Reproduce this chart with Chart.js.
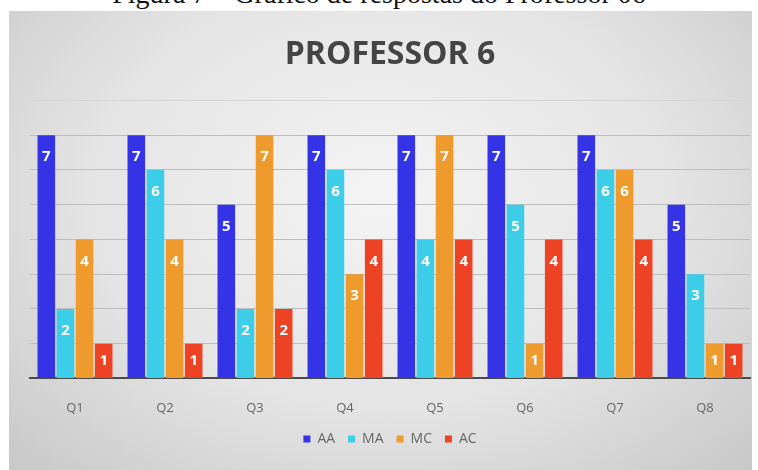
<!DOCTYPE html>
<html lang="pt">
<head>
<meta charset="UTF-8">
<title>Professor 6</title>
<script src="https://cdn.jsdelivr.net/npm/chart.js"></script>
<style>
  html, body { margin: 0; padding: 0; background: #fff; width: 758px; height: 470px; overflow: hidden; }
  #caption {
    position: absolute; left: 0; width: 758px; top: -20px;
    font-family: "Liberation Serif", serif; font-size: 28px; line-height: 28px;
    text-align: center; color: #111; white-space: nowrap;
  }
  #frame {
    position: absolute; left: 9px; top: 11px; width: 743px; height: 459px;
    background: radial-gradient(ellipse at 50% 40%, #f4f4f4 0%, #e4e4e4 55%, #c8c8c8 100%);
  }
</style>
</head>
<body>
<div id="caption">Figura 7 – Gráfico de respostas do Professor 06</div>
<div id="frame"><canvas id="chart" width="743" height="459"></canvas></div>
<script>
  const questions = ['Q1', 'Q2', 'Q3', 'Q4', 'Q5', 'Q6', 'Q7', 'Q8'];
  const aa = [7, 7, 5, 7, 7, 7, 7, 5];
  const ma = [2, 6, 2, 6, 4, 5, 6, 3];
  const mc = [4, 4, 7, 3, 7, 1, 6, 1];
  const ac = [1, 1, 2, 4, 4, 4, 4, 1];

  // numeros brancos dentro das barras
  const barLabels = {
    id: 'barLabels',
    afterDatasetsDraw(chart) {
      const ctx = chart.ctx;
      ctx.save();
      ctx.font = 'bold 15px "Open Sans", sans-serif';
      ctx.fillStyle = '#ffffff';
      ctx.textAlign = 'center';
      ctx.textBaseline = 'middle';
      chart.data.datasets.forEach((ds, i) => {
        chart.getDatasetMeta(i).data.forEach((bar, j) => {
          const h = bar.base - bar.y;
          ctx.fillText(ds.data[j], bar.x, bar.y + Math.min(22, h / 2));
        });
      });
      ctx.restore();
    }
  };

  new Chart(document.getElementById('chart'), {
    type: 'bar',
    data: {
      labels: questions,
      datasets: [
        { label: 'AA', data: aa, backgroundColor: '#3434e6' },
        { label: 'MA', data: ma, backgroundColor: '#3ccde8' },
        { label: 'MC', data: mc, backgroundColor: '#ee9a2c' },
        { label: 'AC', data: ac, backgroundColor: '#ee4224' }
      ]
    },
    options: {
      responsive: false,
      animation: false,
      categoryPercentage: 0.85,
      barPercentage: 0.92,
      layout: { padding: { left: 21, right: 2, top: 0, bottom: 14 } },
      scales: {
        x: {
          grid: { display: false },
          border: { color: '#4a4a4a', width: 2 },
          ticks: { color: '#666666', font: { size: 13, family: '"Open Sans", sans-serif' }, padding: 14 },
          afterFit: axis => { axis.height -= 11; }
        },
        y: {
          min: 0, max: 8,
          ticks: { display: false, stepSize: 1 },
          border: { display: false },
          grid: {
            color: c => c.tick.value === 8 ? '#d4d4d4' : '#bdbdbd',
            drawTicks: false
          }
        }
      },
      plugins: {
        title: {
          display: true,
          text: 'PROFESSOR 6',
          color: '#444444',
          font: { size: 32, weight: 'bold', family: '"Open Sans", sans-serif' },
          padding: { top: 25, bottom: 26 }
        },
        legend: {
          position: 'bottom',
          labels: {
            color: '#666666',
            font: { size: 14, family: '"Open Sans", sans-serif' },
            boxWidth: 7, boxHeight: 7, padding: 13
          }
        },
        tooltip: { enabled: false }
      }
    },
    plugins: [barLabels]
  });
</script>
</body>
</html>
